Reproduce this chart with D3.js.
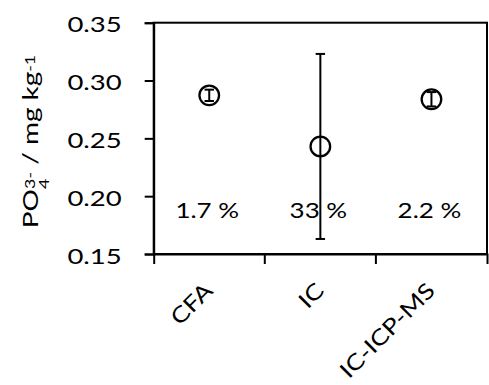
<!DOCTYPE html>
<html>
<head>
<meta charset="utf-8">
<script src="https://cdn.jsdelivr.net/npm/d3@7"></script>
<style>
  html, body { margin: 0; padding: 0; background: #fff; }
  svg { display: block; }
  text { font-family: Lato, "Open Sans", sans-serif; font-weight: 400; fill: #000; }
</style>
</head>
<body>
<div id="chart"></div>
<script>
const categories = ["CFA", "IC", "IC-ICP-MS"];
const means = [0.2872, 0.2430, 0.2838];
const errors = [0.0049, 0.0800, 0.0062];
const rsdLabels = ["1.7 %", "33 %", "2.2 %"];
const yTicks = [0.15, 0.20, 0.25, 0.30, 0.35];

const svgWidth = 489;
const svgHeight = 385;
const margin = { top: 22.7, right: 2, bottom: 131, left: 153.7 };
const chartWidth = svgWidth - margin.left - margin.right;
const chartHeight = svgHeight - margin.top - margin.bottom;

const points = categories.map((c, i) => ({ cat: c, mean: means[i], err: errors[i], label: rsdLabels[i] }));

const root = d3.select("#chart")
    .append("svg")
    .attr("width", svgWidth)
    .attr("height", svgHeight);

const defs = root.append("defs");
defs.append("filter")
    .attr("id", "shadow")
    .attr("x", "-5%").attr("y", "-200%")
    .attr("width", "110%").attr("height", "500%")
    .append("feGaussianBlur")
    .attr("stdDeviation", 1.6);

const svg = root.append("g")
    .attr("transform", `translate(${margin.left},${margin.top})`);

const x = d3.scaleBand()
    .domain(categories)
    .range([0, chartWidth])
    .padding(0);

const y = d3.scaleLinear()
    .domain([0.15, 0.35])
    .range([chartHeight, 0]);

// soft shadow under the x axis
svg.append("line")
    .attr("x1", 2).attr("x2", chartWidth - 6)
    .attr("y1", chartHeight + 3).attr("y2", chartHeight + 3)
    .attr("stroke", "#8a8a8a")
    .attr("stroke-width", 3)
    .attr("opacity", 0.7)
    .attr("filter", "url(#shadow)");

// frame
svg.append("rect")
    .attr("x", 0).attr("y", 0)
    .attr("width", chartWidth).attr("height", chartHeight)
    .attr("fill", "none")
    .attr("stroke", "#000")
    .attr("stroke-width", 2);

// y axis
const yAxis = svg.append("g")
    .call(d3.axisLeft(y).tickValues(yTicks).tickSize(9).tickFormat(d3.format(".2f")));
yAxis.select(".domain").attr("stroke-width", 2);
yAxis.selectAll(".tick line").attr("stroke-width", 2);
yAxis.selectAll(".tick text")
    .attr("x", 0)
    .attr("dy", "0.41em")
    .attr("transform", "translate(-32,0) scale(1.25,1)")
    .style("font-size", "22px");

// x axis: ticks on the category boundaries
const xAxis = svg.append("g")
    .attr("transform", `translate(0,${chartHeight})`)
    .call(d3.axisBottom(x).tickSize(0).tickSizeOuter(10));
xAxis.select(".domain").attr("stroke-width", 2);
xAxis.selectAll(".tick text")
    .attr("x", 0)
    .attr("y", 0)
    .attr("dy", 0)
    .attr("text-anchor", "end")
    .attr("transform", "translate(5,38) rotate(-45) scale(1.2,1)")
    .style("font-size", "22px");

svg.append("g")
    .selectAll("line")
    .data(categories.slice(1))
    .enter()
    .append("line")
    .attr("x1", d => x(d)).attr("x2", d => x(d))
    .attr("y1", chartHeight).attr("y2", chartHeight + 10)
    .attr("stroke", "#000")
    .attr("stroke-width", 2);

// error bars
const capW = 4.7;
const bars = svg.append("g").selectAll("g")
    .data(points)
    .enter()
    .append("g")
    .attr("stroke", "#000")
    .attr("stroke-width", 2);

bars.append("line")
    .attr("x1", d => x(d.cat) + x.bandwidth() / 2)
    .attr("x2", d => x(d.cat) + x.bandwidth() / 2)
    .attr("y1", d => y(d.mean + d.err))
    .attr("y2", d => y(d.mean - d.err));

bars.append("line")
    .attr("x1", d => x(d.cat) + x.bandwidth() / 2 - capW)
    .attr("x2", d => x(d.cat) + x.bandwidth() / 2 + capW)
    .attr("y1", d => y(d.mean + d.err))
    .attr("y2", d => y(d.mean + d.err));

bars.append("line")
    .attr("x1", d => x(d.cat) + x.bandwidth() / 2 - capW)
    .attr("x2", d => x(d.cat) + x.bandwidth() / 2 + capW)
    .attr("y1", d => y(d.mean - d.err))
    .attr("y2", d => y(d.mean - d.err));

// markers
svg.selectAll(".pt")
    .data(points)
    .enter()
    .append("circle")
    .attr("class", "pt")
    .attr("cx", d => x(d.cat) + x.bandwidth() / 2)
    .attr("cy", d => y(d.mean))
    .attr("r", 9.8)
    .attr("fill", "none")
    .attr("stroke", "#000")
    .attr("stroke-width", 2.3);

// RSD labels
svg.selectAll(".rsd")
    .data(points)
    .enter()
    .append("text")
    .attr("class", "rsd")
    .attr("text-anchor", "middle")
    .attr("transform", d => `translate(${x(d.cat) + x.bandwidth() / 2 - 2},${y(0.18) - 1}) scale(1.18,1)`)
    .style("font-size", "22px")
    .text(d => d.label);

// y axis title
const yTitle = root.append("text")
    .attr("text-anchor", "middle")
    .attr("transform", "translate(38.3,141.5) rotate(-90) scale(1.27,1)")
    .style("font-size", "22px");
yTitle.append("tspan").text("PO");
yTitle.append("tspan").style("font-size", "14px").attr("dy", 10.5).text("4");
yTitle.append("tspan").style("font-size", "14px").attr("dx", -8).attr("dy", -14).text("3-");
yTitle.append("tspan").attr("dy", 3.5).text(" / mg kg");
yTitle.append("tspan").style("font-size", "14px").attr("dy", -3.5).text("-1");
</script>
</body>
</html>
